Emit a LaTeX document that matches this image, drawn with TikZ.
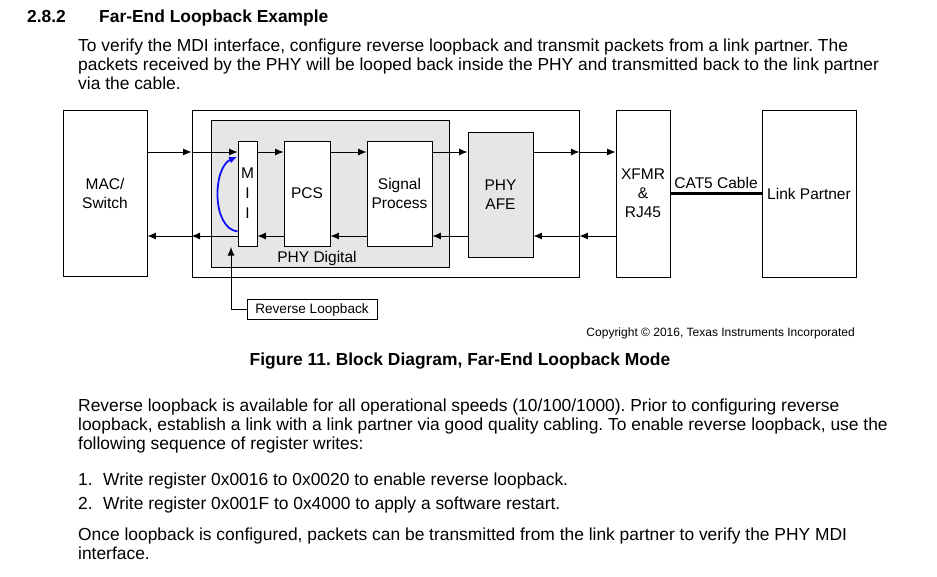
\documentclass[tikz,border=0pt]{standalone}
\usepackage{fontspec}
\setmainfont{Liberation Sans}
\usetikzlibrary{arrows.meta, positioning, calc}
\definecolor{digfill}{RGB}{230, 230, 230}
\definecolor{loopblue}{RGB}{15, 15, 250}
\frenchspacing
\newcommand{\bodyfont}{\fontsize{17.4}{20.8}\selectfont}
\newcommand{\blockfont}{\fontsize{15.5}{19}\selectfont}
\newcommand{\notefont}{\fontsize{13.6}{16}\selectfont}
\newcommand{\smallnote}{\fontsize{12}{14}\selectfont}
\tikzstyle{block}     = [rectangle, draw=black, line width=0.9pt, fill=white,
                         align=center, inner sep=0pt, font=\blockfont]
\tikzstyle{grayblock} = [block, fill=digfill]
\tikzstyle{textline}  = [anchor=base west, inner sep=0pt, font=\bodyfont]
\tikzstyle{arrow}     = [-{Latex[length=8.5pt, width=7pt]}, line width=0.9pt]

\begin{document}
\begin{tikzpicture}[x=1pt, y=-1pt]
  \useasboundingbox (0,0) rectangle (937,576);

  % Text above the figure
  \node (secno)    [textline, font=\bodyfont\bfseries] at (27,22) {2.8.2};
  \node (sectitle) [textline, font=\bodyfont\bfseries] at (99,22) {Far-End Loopback Example};
  \node (introa) [textline] at (78,51) {To verify the MDI interface, configure reverse loopback and transmit packets from a link partner. The};
  \node (introb) [textline] at (78,70) {packets received by the PHY will be looped back inside the PHY and transmitted back to the link partner};
  \node (introc) [textline] at (78,89) {via the cable.};

  % Blocks
  \node (mac)  [block, minimum width=84pt, minimum height=166pt] at (105,193)   {MAC/\\Switch};
  \node (phy)  [block, minimum width=387pt, minimum height=167pt] at (385.5,193.5) {};
  \node (dig)  [grayblock, minimum width=238pt, minimum height=147pt] at (330,194) {};
  \node (mii)  [block, minimum width=19pt, minimum height=105pt,
                font={\fontsize{15.5}{20}\selectfont}] at (247.5,193.5) {M\\I\\I};
  \node (pcs)  [block, minimum width=46pt, minimum height=105pt] at (307,193.5)   {PCS};
  \node (sig)  [block, minimum width=65pt, minimum height=105pt] at (399.5,193.5) {Signal\\Process};
  \node (afe)  [grayblock, minimum width=65pt, minimum height=125pt] at (500.5,194.5) {PHY\\AFE};
  \node (xfmr) [block, minimum width=54pt, minimum height=167pt] at (643,193.5)   {XFMR\\\&\\RJ45};
  \node (lp)   [block, minimum width=94pt, minimum height=167pt] at (809,193.5)   {Link Partner};
  \node (diglbl) [font=\blockfont, inner sep=0pt] at (317,258) {PHY Digital};
  \node (rlb)  [block, font=\notefont, minimum width=130pt, minimum height=20pt] at (312,309.5) {Reverse Loopback};
  \node (cat)  [font=\blockfont, inner sep=0pt] at (716,183) {CAT5 Cable};

  \coordinate (up)  at (0,152);
  \coordinate (dn)  at (0,236);
  \coordinate (tap) at (231,247);

  % Transmit path
  \draw [arrow] (mac.east |- up)  -- (phy.west |- up);
  \draw [arrow] (phy.west |- up)  -- (mii.west |- up);
  \draw [arrow] (mii.east |- up)  -- (pcs.west |- up);
  \draw [arrow] (pcs.east |- up)  -- (sig.west |- up);
  \draw [arrow] (sig.east |- up)  -- (afe.west |- up);
  \draw [arrow] (afe.east |- up)  -- (phy.east |- up);
  \draw [arrow] (phy.east |- up)  -- (xfmr.west |- up);

  % Receive path
  \draw [arrow] (xfmr.west |- dn) -- (phy.east |- dn);
  \draw [arrow] (phy.east |- dn)  -- (afe.east |- dn);
  \draw [arrow] (afe.west |- dn)  -- (sig.east |- dn);
  \draw [arrow] (sig.west |- dn)  -- (pcs.east |- dn);
  \draw [arrow] (pcs.west |- dn)  -- (mii.east |- dn);
  \draw [arrow] (mii.west |- dn)  -- (phy.west |- dn);
  \draw [arrow] (phy.west |- dn)  -- (mac.east |- dn);

  % Loopback
  \draw [arrow, draw=loopblue, line width=1.8pt]
        ([yshift=15pt]mii.south west) .. controls +(-26,-3) and +(-25,11) .. ([yshift=-16pt]mii.north west);
  \draw [arrow] (rlb.west) -| (tap);
  \draw [line width=3pt] (xfmr.east) -- (lp.west);

  % Text below the figure
  \node (copy)    [anchor=base east, inner sep=0pt, font=\smallnote] at (855,336)
                  {Copyright © 2016, Texas Instruments Incorporated};
  \node (caption) [anchor=base, inner sep=0pt, font=\bodyfont\bfseries] at (460,365)
                  {Figure 11. Block Diagram, Far-End Loopback Mode};
  \node (speeda) [textline] at (78,411) {Reverse loopback is available for all operational speeds (10/100/1000). Prior to configuring reverse};
  \node (speedb) [textline] at (78,430) {loopback, establish a link with a link partner via good quality cabling. To enable reverse loopback, use the};
  \node (speedc) [textline] at (78,449) {following sequence of register writes:};
  \node (numa)  [textline] at (78,485)  {1.};
  \node (stepa) [textline] at (103,485) {Write register 0x0016 to 0x0020 to enable reverse loopback.};
  \node (numb)  [textline] at (78,509)  {2.};
  \node (stepb) [textline] at (103,509) {Write register 0x001F to 0x4000 to apply a software restart.};
  \node (oncea) [textline] at (78,540) {Once loopback is configured, packets can be transmitted from the link partner to verify the PHY MDI};
  \node (onceb) [textline] at (78,559) {interface.};
\end{tikzpicture}
\end{document}
